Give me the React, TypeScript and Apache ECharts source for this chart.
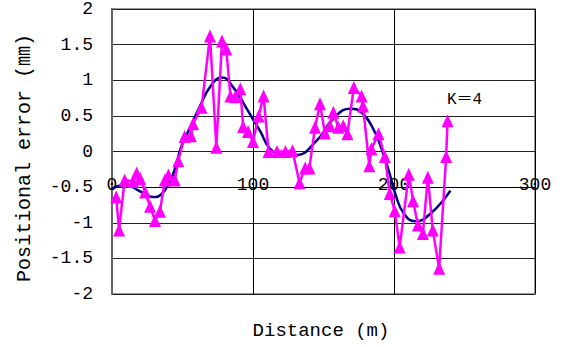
import React, { useEffect, useRef } from "react";
import * as echarts from "echarts";

const measuredX = [3, 5, 9, 15, 17.5, 20, 23.5, 27, 30.5, 34, 37.5, 40, 44.5, 47, 51.5, 56, 57.5, 63.5, 69.5, 74, 78, 81, 84, 87.5, 91, 93, 96.5, 100, 104, 107.5, 111, 117, 123, 128, 133, 137, 140, 144, 147.5, 151, 154.5, 157, 160.5, 164, 167, 171.5, 177, 178, 182.5, 184, 189, 193.5, 197, 200.5, 204, 210.5, 213.5, 217, 220.5, 224, 227.5, 232, 237, 238];
const measuredY = [-0.64, -1.1, -0.4, -0.42, -0.3, -0.38, -0.57, -0.77, -0.97, -0.84, -0.4, -0.33, -0.4, -0.13, 0.21, 0.22, 0.39, 0.62, 1.62, 0.06, 1.55, 1.44, 0.78, 0.77, 0.88, 0.35, 0.28, 0.14, 0.5, 0.78, 0, 0, 0, 0.01, -0.44, -0.23, -0.23, 0.34, 0.67, 0.26, 0.36, 0.55, 0.34, 0.36, 0.25, 0.9, 0.78, 0.64, -0.2, 0.04, 0.25, -0.07, -0.59, -0.83, -1.34, -0.32, -0.69, -1.03, -1.15, -0.36, -1.1, -1.64, -0.07, 0.43];

const fitX = [0, 9, 21, 29, 35, 41, 45, 49, 55, 62, 70, 78, 86, 95, 100, 105, 112, 120, 130, 145, 157, 169, 178, 187, 190, 196, 201, 207, 215, 226, 240];
const fitY = [-0.52, -0.47, -0.57, -0.64, -0.6, -0.42, -0.22, 0.06, 0.32, 0.62, 0.92, 1.04, 0.9, 0.62, 0.45, 0.29, 0.04, -0.04, -0.05, 0.15, 0.46, 0.6, 0.53, 0.25, 0.1, -0.25, -0.6, -0.87, -0.98, -0.87, -0.55];

const yTicks = ["2", "1.5", "1", "0.5", "0", "-0.5", "-1", "-1.5", "-2"];
const xTicks = ["0", "100", "200", "300"];
const xCrossValue = -0.5;
const xTitle = "Distance (m)";
const yTitle = "Positional error (㎜)";
const annotation = "K＝4";

const MONO = "'Liberation Mono', 'Noto Sans CJK SC', monospace";

const GRID = { left: 112, right: 30, top: 9, bottom: 53 };
const H = 347;

export default function App() {
  const ref = useRef<HTMLDivElement>(null);
  useEffect(() => {
    if (!ref.current) return;
    const chart = echarts.init(ref.current, undefined, { renderer: "svg" });
    const yVals = yTicks.map(Number);
    const xVals = xTicks.map(Number);
    const yMin = yVals[yVals.length - 1];
    const yMax = yVals[0];
    const gridH = H - GRID.top - GRID.bottom;
    const crossOffset = -gridH * (xCrossValue - yMin) / (yMax - yMin);
    chart.setOption({
      animation: false,
      backgroundColor: "#ffffff",
      grid: {
        ...GRID,
        show: true,
        borderColor: "#999999",
        borderWidth: 2,
      },
      xAxis: {
        type: "value",
        position: "bottom",
        offset: crossOffset,
        min: xVals[0],
        max: xVals[xVals.length - 1],
        interval: 100,
        axisLine: {
          show: true,
          onZero: false,
          lineStyle: { color: "#000", width: 1 },
        },
        axisTick: { show: false },
        axisLabel: {
          margin: -2,
          verticalAlign: "middle",
          fontFamily: MONO,
          fontSize: 18,
          color: "#000",
        },
        splitLine: { show: true, lineStyle: { color: "#000", width: 1 } },
      },
      yAxis: {
        type: "value",
        min: yMin,
        max: yMax,
        interval: 0.5,
        axisLine: { show: true, onZero: false, lineStyle: { color: "#666", width: 2 } },
        axisTick: { show: false },
        axisLabel: {
          margin: 19,
          fontFamily: MONO,
          fontSize: 18,
          color: "#000",
        },
        splitLine: { show: true, lineStyle: { color: "#222", width: 1 } },
      },
      series: [
        {
          type: "line",
          name: "fit",
          data: fitX.map((x, i) => [x, fitY[i]]),
          smooth: 0.5,
          showSymbol: false,
          symbol: "none",
          lineStyle: { color: "#000080", width: 2.5 },
          z: 2,
        },
        {
          type: "line",
          name: "measured",
          data: measuredX.map((x, i) => [x, measuredY[i]]),
          symbol: "triangle",
          symbolSize: [12, 13],
          itemStyle: { color: "#ff00ff" },
          lineStyle: { color: "#ff00ff", width: 2.5 },
          z: 3,
        },
      ],
      graphic: [
        {
          type: "text",
          x: 321,
          y: 331,
          style: {
            text: xTitle,
            fontFamily: MONO,
            fontSize: 19,
            fill: "#000",
            align: "center",
            verticalAlign: "middle",
          },
        },
        {
          type: "text",
          x: 24,
          y: 158,
          rotation: Math.PI / 2,
          style: {
            text: yTitle,
            fontFamily: MONO,
            fontSize: 20,
            fill: "#000",
            align: "center",
            verticalAlign: "middle",
          },
        },
        {
          type: "text",
          x: 447,
          y: 100,
          style: {
            text: annotation,
            fontFamily: MONO,
            fontSize: 16,
            fill: "#000",
            align: "left",
            verticalAlign: "middle",
          },
        },
      ],
    });
    return () => chart.dispose();
  }, []);
  return (
    <div
      ref={ref}
      style={{ position: "fixed", left: 0, top: 0, width: 565, height: 347, background: "#fff" }}
    />
  );
}
